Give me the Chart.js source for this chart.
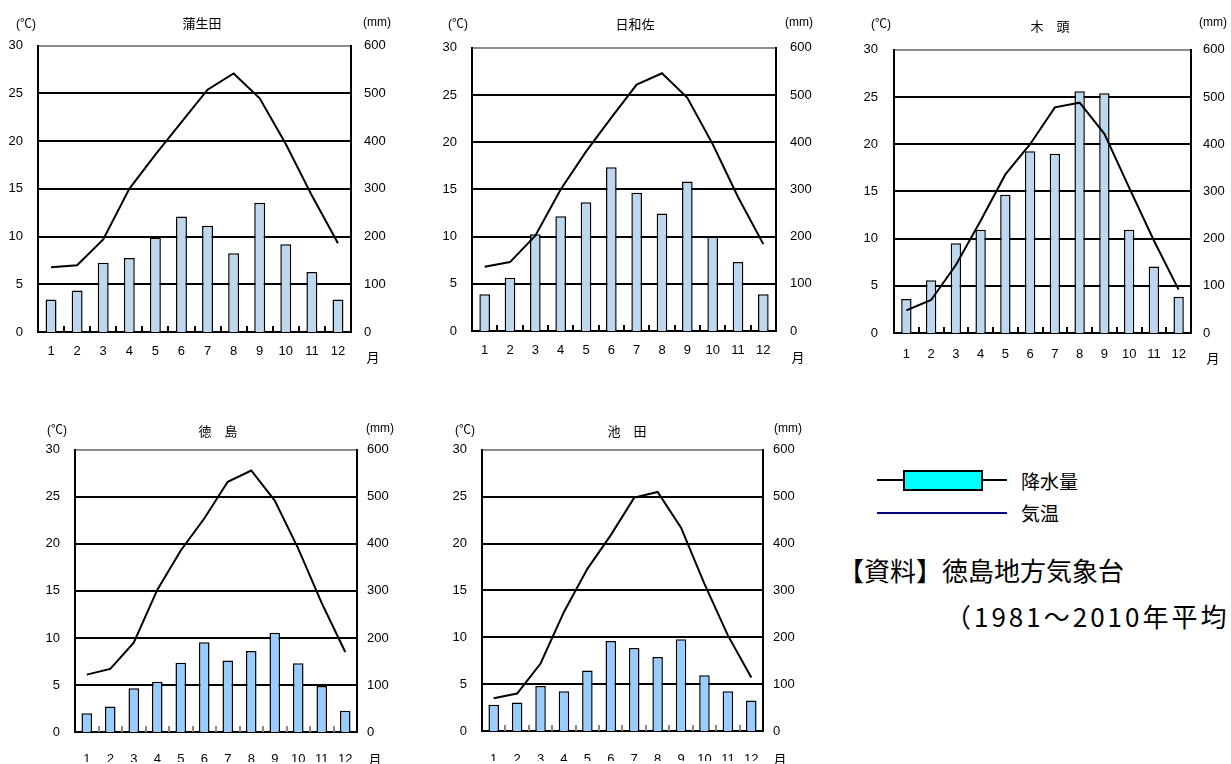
<!DOCTYPE html>
<html>
<head>
<meta charset="utf-8">
<script src="https://cdn.jsdelivr.net/npm/chart.js@4.4.1/dist/chart.umd.min.js"></script>
<style>
  body { margin: 0; background: #fff; width: 1231px; height: 764px; overflow: hidden; position: relative;
         font-family: "Liberation Sans", "Noto Sans CJK JP", sans-serif; color: #000; }
  .box { position: absolute; }
  .lbl { position: absolute; transform: translate(-50%, -50%); white-space: nowrap; font-size: 12px; }
  .ttl { font-family: "Noto Sans CJK JP", sans-serif; font-size: 13px; }
  .src { position: absolute; font-family: "Noto Sans CJK JP", sans-serif; white-space: nowrap; }
</style>
</head>
<body>
<script>
// months and axis ticks shared by every station
const months = ["1", "2", "3", "4", "5", "6", "7", "8", "9", "10", "11", "12"];
const tempTicks = [0, 5, 10, 15, 20, 25, 30];
const rainTicks = [0, 100, 200, 300, 400, 500, 600];

// 蒲生田
const gamodaTemp = [6.8, 7.0, 9.7, 15.0, 18.6, 22.0, 25.4, 27.1, 24.5, 19.7, 14.3, 9.3];
const gamodaRain = [68, 87, 145, 155, 198, 242, 223, 165, 271, 184, 126, 68];
// 日和佐
const hiwasaTemp = [6.8, 7.3, 10.1, 15.0, 19.0, 22.6, 26.1, 27.3, 24.7, 19.8, 14.2, 9.2];
const hiwasaRain = [78, 113, 205, 243, 273, 347, 293, 249, 317, 200, 146, 78];
// 木頭
const kitoTemp = [2.4, 3.5, 7.2, 11.9, 16.8, 20.0, 23.9, 24.4, 21.1, 15.4, 9.8, 4.6];
const kitoRain = [72, 112, 190, 219, 293, 385, 380, 512, 508, 219, 141, 77];
// 徳島
const tokushimaTemp = [6.1, 6.7, 9.5, 15.1, 19.3, 22.7, 26.6, 27.8, 24.6, 19.5, 13.7, 8.5];
const tokushimaRain = [40, 54, 93, 107, 147, 191, 152, 172, 211, 146, 98, 45];
// 池田
const ikedaTemp = [3.5, 4.0, 7.2, 12.7, 17.3, 20.9, 24.9, 25.5, 21.7, 15.7, 10.2, 5.7];
const ikedaRain = [56, 61, 96, 85, 129, 192, 177, 158, 196, 119, 85, 65];

function addLabel(text, x, y, cls) {
  const d = document.createElement("div");
  d.className = "lbl" + (cls ? " " + cls : "");
  d.textContent = text;
  d.style.left = x + "px";
  d.style.top = y + "px";
  document.body.appendChild(d);
}

// short marks between the bars along the bottom axis
const categoryTicks = {
  id: "categoryTicks",
  afterDatasetsDraw(chart) {
    const { ctx, chartArea } = chart;
    const x = chart.scales.x;
    const step = (chartArea.right - chartArea.left) / months.length;
    ctx.save();
    ctx.strokeStyle = chart.options.tickColor || "#000";
    ctx.lineWidth = 2;
    for (let k = 1; k < months.length; k++) {
      const px = Math.round(x.getPixelForValue(k) - step / 2);
      ctx.beginPath();
      ctx.moveTo(px, chartArea.bottom);
      ctx.lineTo(px, chartArea.bottom - 6);
      ctx.stroke();
    }
    ctx.restore();
  },
};

// s: station setup; area in page pixels
function createClimateChart(s) {
  const a = s.area;
  const wrap = document.createElement("div");
  wrap.className = "box";
  wrap.style.left = a.l - 45 + "px";
  wrap.style.top = a.t - 22 + "px";
  wrap.style.width = a.r - a.l + 90 + "px";
  wrap.style.height = a.b - a.t + 62 + "px";
  const canvas = document.createElement("canvas");
  wrap.appendChild(canvas);
  document.body.appendChild(wrap);

  const tickFont = { family: "Liberation Sans", size: 13 };

  new Chart(canvas.getContext("2d"), {
    data: {
      labels: months,
      datasets: [
        {
          type: "line",
          label: "気温",
          data: s.temp,
          yAxisID: "y",
          borderColor: "#000",
          borderWidth: 2,
          pointRadius: 0,
          tension: 0,
          order: 0,
        },
        {
          type: "bar",
          label: "降水量",
          data: s.rain,
          yAxisID: "y2",
          backgroundColor: s.barColor,
          borderColor: "#000",
          borderWidth: 1.5,
          barPercentage: s.barPct,
          categoryPercentage: 1,
          order: 1,
        },
      ],
    },
    options: {
      responsive: true,
      maintainAspectRatio: false,
      animation: false,
      tickColor: s.tickColor,
      layout: { padding: { top: 10, left: 0, right: 0, bottom: 10 } },
      plugins: { legend: { display: false }, tooltip: { enabled: false } },
      scales: {
        x: {
          offset: true,
          grid: { display: false, drawTicks: false },
          border: { color: "#000", width: 2 },
          ticks: { color: "#000", font: tickFont, padding: s.xPad, maxRotation: 0, autoSkip: false },
          afterFit: (sc) => { sc.height = 30; },
        },
        y: {
          position: "left",
          min: 0,
          max: 30,
          afterBuildTicks: (sc) => { sc.ticks = tempTicks.map((v) => ({ value: v })); },
          grid: {
            color: (c) => (c.tick && c.tick.value === 30 ? "#8c8c8c" : "#000"),
            lineWidth: 2,
            drawTicks: false,
          },
          border: { color: "#000", width: 2 },
          ticks: { color: "#000", font: tickFont, padding: s.lPad },
          afterFit: (sc) => { sc.width = 45; },
        },
        y2: {
          position: "right",
          min: 0,
          max: 600,
          afterBuildTicks: (sc) => { sc.ticks = rainTicks.map((v) => ({ value: v })); },
          grid: { display: false, drawTicks: false },
          border: { color: "#000", width: 2 },
          ticks: { color: "#000", font: tickFont, padding: s.rPad },
          afterFit: (sc) => { sc.width = 45; },
        },
      },
    },
    plugins: [categoryTicks],
  });

  const u = s.labels;
  addLabel("(℃)", u.c[0], u.c[1]);
  addLabel(s.title, u.t[0], u.t[1], "ttl");
  addLabel("(mm)", u.m[0], u.m[1]);
  addLabel("月", u.g[0], u.g[1], "ttl");
}

const topBar = "#bdd7ee";
const lowBar = "#99ccff";

createClimateChart({
  title: "蒲生田", temp: gamodaTemp, rain: gamodaRain, barColor: topBar, barPct: 0.42,
  area: { l: 38, t: 45, r: 351, b: 332 }, lPad: 15, rPad: 13, xPad: 12, tickColor: "#000",
  labels: { c: [26, 22], t: [202, 22], m: [377, 22], g: [373, 356] },
});
createClimateChart({
  title: "日和佐", temp: hiwasaTemp, rain: hiwasaRain, barColor: topBar, barPct: 0.42,
  area: { l: 472, t: 47, r: 776, b: 331 }, lPad: 15, rPad: 14, xPad: 12, tickColor: "#000",
  labels: { c: [458, 22], t: [635, 23], m: [799, 22], g: [798, 356] },
});
createClimateChart({
  title: "木　頭", temp: kitoTemp, rain: kitoRain, barColor: topBar, barPct: 0.42,
  area: { l: 894, t: 48, r: 1191, b: 333 }, lPad: 16, rPad: 12, xPad: 14, tickColor: "#000",
  labels: { c: [881, 22], t: [1050, 25], m: [1213, 22], g: [1213, 357] },
});
createClimateChart({
  title: "徳　島", temp: tokushimaTemp, rain: tokushimaRain, barColor: lowBar, barPct: 0.45,
  area: { l: 75, t: 449, r: 357, b: 732 }, lPad: 15, rPad: 10, xPad: 20, tickColor: "#888",
  labels: { c: [57, 428], t: [218, 430], m: [380, 428], g: [375, 758] },
});
createClimateChart({
  title: "池　田", temp: ikedaTemp, rain: ikedaRain, barColor: lowBar, barPct: 0.45,
  area: { l: 482, t: 449, r: 763, b: 731 }, lPad: 15, rPad: 10, xPad: 21, tickColor: "#888",
  labels: { c: [465, 428], t: [627, 430], m: [788, 428], g: [780, 758] },
});
</script>

<!-- legend -->
<div class="box" style="left:877px; top:479px; width:130px; height:2px; background:#000;"></div>
<div class="box" style="left:903px; top:470px; width:76px; height:17px; background:#00ffff; border:2px solid #000;"></div>
<div class="src" style="left:1021px; top:468px; font-size:19px; line-height:26px;">降水量</div>
<div class="box" style="left:877px; top:512px; width:130px; height:2px; background:#000080;"></div>
<div class="src" style="left:1021px; top:500px; font-size:19px; line-height:26px;">気温</div>

<!-- source -->
<div class="src" style="left:838px; top:555px; font-size:26px; line-height:30px;">【資料】徳島地方気象台</div>
<div class="src" style="left:945px; top:601px; font-size:26px; line-height:30px; letter-spacing:3px;">（1981～2010年平均）</div>
</body>
</html>
